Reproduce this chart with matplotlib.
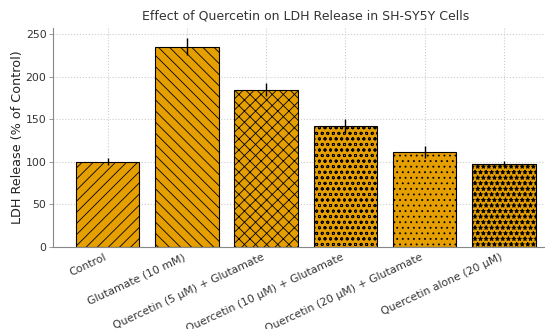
import numpy as np
import matplotlib
matplotlib.use('Agg')
import matplotlib.pyplot as plt

groups = ['Control', 'Glutamate (10 mM)', 'Quercetin (5 µM) + Glutamate',
          'Quercetin (10 µM) + Glutamate', 'Quercetin (20 µM) + Glutamate',
          'Quercetin alone (20 µM)']
ldh = [100, 235, 185, 142, 112, 98]
err = [4, 10, 8, 8, 7, 3]
hatches = ['///', '\\\\\\', 'xxx', 'ooo', '...', '***']

plt.rcParams['hatch.linewidth'] = 0.6
fig = plt.figure(figsize=(5.45, 3.29), dpi=100)
ax = fig.add_axes([52.8 / 545, 1 - 247 / 329, 506 / 545, 219 / 329])

x = np.arange(len(groups))
bars = ax.bar(x, ldh, yerr=err, width=0.8, color='#E69F00', edgecolor='black',
              linewidth=0.8, error_kw=dict(ecolor='black', elinewidth=1.0, capsize=0))
for b, h in zip(bars, hatches):
    b.set_hatch(h)

ax.set_xticks(x)
ax.set_xticklabels(groups, rotation=25, ha='right', fontsize=7.8, color='#333333')
ax.tick_params(axis='y', labelsize=7.8, labelcolor='#333333', length=3, color='#888888',
               width=0.6, pad=1.5)
ax.tick_params(axis='x', length=0)
ax.set_ylabel('LDH Release (% of Control)', fontsize=9.2, color='#222222')
ax.yaxis.set_label_coords(-0.056, 0.5)
ax.set_title('Effect of Quercetin on LDH Release in SH-SY5Y Cells', fontsize=9, color='#333333')
ax.grid(True, linestyle=':', color='#cccccc', linewidth=0.8)
ax.set_axisbelow(True)
for s in ['top', 'right']:
    ax.spines[s].set_visible(False)
for s in ['left', 'bottom']:
    ax.spines[s].set_color('#888888')

plt.savefig('out.png', dpi=100)
